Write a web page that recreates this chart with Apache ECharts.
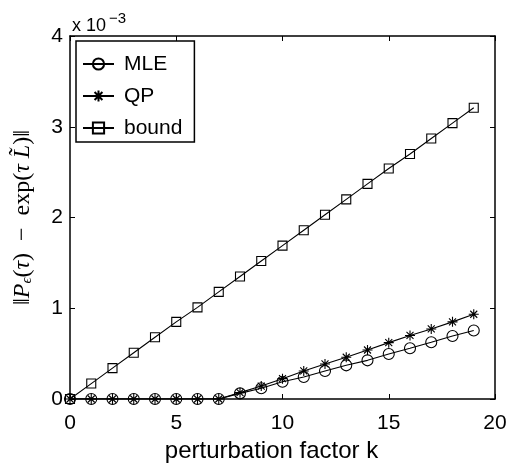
<!DOCTYPE html>
<html>
<head>
<meta charset="utf-8">
<script src="https://cdn.jsdelivr.net/npm/echarts@6/dist/echarts.min.js"></script>
<style>
  html, body { margin: 0; padding: 0; background: #fff; }
  #chart { width: 508px; height: 463px; }
</style>
</head>
<body>
<div id="chart"></div>
<script>
// perturbation factor k
const kValues = [0, 1, 2, 3, 4, 5, 6, 7, 8, 9, 10, 11, 12, 13, 14, 15, 16, 17, 18, 19];
// errors, in units of 1e-3
const mleValues = [0, 0, 0, 0, 0, 0, 0, 0, 0.062, 0.118, 0.19, 0.243, 0.309, 0.371, 0.426, 0.496, 0.559, 0.625, 0.695, 0.754];
const qpValues = [0, 0, 0, 0, 0, 0, 0, 0, 0.07, 0.143, 0.224, 0.309, 0.386, 0.46, 0.54, 0.621, 0.70, 0.772, 0.85, 0.934];
const boundValues = [0, 0.17, 0.34, 0.51, 0.68, 0.85, 1.01, 1.18, 1.35, 1.52, 1.69, 1.86, 2.03, 2.20, 2.37, 2.54, 2.70, 2.87, 3.04, 3.21];
const xTicks = [0, 5, 10, 15, 20];
const yTicks = [0, 1, 2, 3, 4];

const FONT = 'Liberation Sans, Arial, Helvetica, sans-serif';
const SERIF = 'Liberation Serif, DejaVu Serif, serif';
const starPath = 'path://M0,-10L0,10M-10,0L10,0M-7,-7L7,7M-7,7L7,-7';

const pair = (ys) => kValues.map((k, i) => [k, ys[i]]);

const chart = echarts.init(document.getElementById('chart'), null, { renderer: 'canvas' });

const axisCommon = {
  type: 'value',
  axisLine: { show: true, onZero: false, lineStyle: { color: '#000', width: 1.5 } },
  axisTick: { show: true, inside: true, length: 5, lineStyle: { color: '#000', width: 1 } },
  splitLine: { show: false }
};

const mkSeries = (name, data, symbol, size) => ({
  name,
  type: 'line',
  data: pair(data),
  symbol,
  symbolSize: size,
  showAllSymbol: true,
  lineStyle: { color: '#000', width: 1.1 },
  itemStyle: { color: 'none', borderColor: '#000', borderWidth: 1.1 },
  emphasis: { disabled: true },
  animation: false
});

chart.setOption({
  animation: false,
  grid: { left: 70, right: 13, top: 36, bottom: 64, containLabel: false, outerBoundsMode: 'none' },
  legend: {
    orient: 'vertical',
    left: 76,
    top: 41,
    padding: [12, 12, 3, 6],
    itemGap: 10,
    itemWidth: 31,
    itemHeight: 14,
    borderColor: '#000',
    borderWidth: 1.5,
    backgroundColor: '#fff',
    textStyle: { fontFamily: FONT, fontSize: 21, lineHeight: 22, color: '#000', padding: [0, 0, 0, 5] },
    data: ['MLE', 'QP', 'bound']
  },
  xAxis: [
    Object.assign({}, axisCommon, {
      min: 0, max: 20, interval: 5,
      position: 'bottom',
      name: 'perturbation factor k',
      nameLocation: 'middle',
      nameGap: 36,
      nameTextStyle: { fontFamily: FONT, fontSize: 24, color: '#000', padding: [0, 22, 0, 0] },
      axisLabel: { fontFamily: FONT, fontSize: 21, color: '#000', margin: 14,
        formatter: (v) => (xTicks.includes(v) ? String(v) : '') }
    }),
    Object.assign({}, axisCommon, {
      min: 0, max: 20, interval: 5,
      position: 'top',
      axisLabel: { show: false }
    })
  ],
  yAxis: [
    Object.assign({}, axisCommon, {
      min: 0, max: 4, interval: 1,
      position: 'left',
      name: '{t|‖}{i|P}{s|ϵ}{t|(}{i|τ}{t|)  −  exp(}{i|τ L̃}{t|)‖}',
      nameLocation: 'middle',
      nameGap: 35,
      nameRotate: 90,
      nameTextStyle: {
        color: '#000',
        rich: {
          t: { fontFamily: SERIF, fontSize: 24, color: '#000' },
          i: { fontFamily: SERIF, fontSize: 24, fontStyle: 'italic', color: '#000' },
          s: { fontFamily: SERIF, fontSize: 15, fontStyle: 'italic', color: '#000', verticalAlign: 'bottom', padding: [10, 0, 0, 0] }
        }
      },
      axisLabel: { fontFamily: FONT, fontSize: 21, color: '#000', margin: 7,
        formatter: (v) => (yTicks.includes(v) ? String(v) : '') }
    }),
    Object.assign({}, axisCommon, {
      min: 0, max: 4, interval: 1,
      position: 'right',
      axisLabel: { show: false }
    })
  ],
  graphic: [
    {
      type: 'text',
      x: 72, y: 35,
      style: { text: 'x 10', fontFamily: FONT, fontSize: 18, fill: '#000', verticalAlign: 'bottom' }
    },
    {
      type: 'text',
      x: 109, y: 26,
      style: { text: '−3', fontFamily: FONT, fontSize: 15, fill: '#000', verticalAlign: 'bottom' }
    }
  ],
  series: [
    mkSeries('MLE', mleValues, 'circle', 11),
    mkSeries('QP', qpValues, starPath, 10),
    mkSeries('bound', boundValues, 'rect', 9)
  ]
});
</script>
</body>
</html>
